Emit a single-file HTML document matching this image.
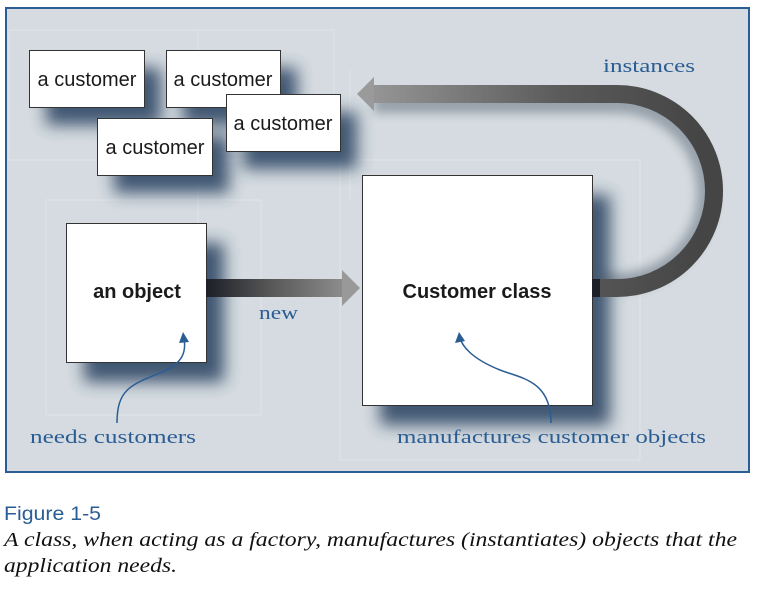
<!DOCTYPE html>
<html><head><meta charset="utf-8"><style>
html,body{margin:0;padding:0;background:#fff;width:757px;height:595px;overflow:hidden}
svg{display:block}
</style></head><body>
<svg width="757" height="595" viewBox="0 0 757 595" xmlns="http://www.w3.org/2000/svg">
<defs>
<filter id="sh" x="-40%" y="-40%" width="180%" height="180%"><feGaussianBlur stdDeviation="8"/></filter>
<filter id="sh2" x="-20%" y="-20%" width="140%" height="140%"><feGaussianBlur stdDeviation="5"/></filter>
<linearGradient id="gnew" x1="206" y1="0" x2="360" y2="0" gradientUnits="userSpaceOnUse">
<stop offset="0" stop-color="#1c1f28"/><stop offset="0.4" stop-color="#555"/><stop offset="1" stop-color="#999"/></linearGradient>
<linearGradient id="ginst" x1="357" y1="0" x2="700" y2="0" gradientUnits="userSpaceOnUse">
<stop offset="0" stop-color="#9a9a9a"/><stop offset="0.6" stop-color="#5a5a5a"/><stop offset="1" stop-color="#454545"/></linearGradient>
</defs>
<rect x="6" y="8" width="743" height="464" fill="#d5dbe0" stroke="#2a5d94" stroke-width="2"/>
<g stroke="#dfe4e8" stroke-width="1" fill="none">
<rect x="9" y="30" width="325" height="130"/>
<rect x="46" y="200" width="215" height="215"/>
<rect x="340" y="160" width="300" height="300"/>
<line x1="198" y1="30" x2="198" y2="230"/>
<line x1="350" y1="70" x2="350" y2="200"/>
</g>
<g fill="#27405e" opacity="0.85" filter="url(#sh)">
<rect x="46" y="68" width="115" height="57"/>
<rect x="183" y="68" width="114" height="57"/>
<rect x="243" y="112" width="114" height="57"/>
<rect x="114" y="136" width="115" height="57"/>
<rect x="84" y="243" width="140" height="139"/>
<rect x="380" y="195" width="230" height="230"/>
</g>
<path d="M374 104 L617 104 A88 88 0 0 1 617 282 L592 282" fill="none" stroke="#4a5868" stroke-width="18" opacity="0.45" filter="url(#sh2)"/>
<g fill="#fff" stroke="#333" stroke-width="1">
<rect x="29.5" y="50.5" width="115" height="57"/>
<rect x="166.5" y="50.5" width="114" height="57"/>
<rect x="226.5" y="94.5" width="114" height="57"/>
<rect x="97.5" y="118.5" width="115" height="57"/>
<rect x="66.5" y="223.5" width="140" height="139"/>
<rect x="362.5" y="175.5" width="230" height="230"/>
</g>
<g font-family="Liberation Sans, sans-serif" font-size="20" fill="#1a1a1a">
<text x="87" y="86" text-anchor="middle">a customer</text>
<text x="223" y="86" text-anchor="middle">a customer</text>
<text x="283" y="130" text-anchor="middle">a customer</text>
<text x="155" y="154" text-anchor="middle">a customer</text>
<text x="137" y="298" text-anchor="middle" font-weight="bold" font-size="20">an object</text>
<text x="477" y="298" text-anchor="middle" font-weight="bold" font-size="20">Customer class</text>
</g>
<path d="M374 94 L617 94 A97 97 0 0 1 617 288 L592 288" fill="none" stroke="url(#ginst)" stroke-width="18"/>
<path d="M592 279 L600 279 L600 297 L592 297 Z" fill="#1c1f28"/>
<polygon points="357,94 374,77 374,111" fill="#9a9a9a"/>
<rect x="206" y="279" width="137" height="18" fill="url(#gnew)"/>
<polygon points="342,270 360,288 342,306" fill="#999"/>
<g fill="none" stroke="#2a5d94" stroke-width="1.5">
<path d="M117 423 C117 390 130 385 160 373 C185 363 186 350 184 338"/>
<path d="M551 423 C551 380 520 378 500 370 C470 358 462 345 460 338"/>
</g>
<g fill="#2a5d94">
<polygon points="183,332 179,343 189,342"/>
<polygon points="459,332 455,343 465,341"/>
</g>
<g font-family="Liberation Serif, serif" font-size="19" fill="#2a5d94">
<text x="603" y="72" textLength="92" lengthAdjust="spacingAndGlyphs">instances</text>
<text x="259" y="319" textLength="39" lengthAdjust="spacingAndGlyphs">new</text>
<text x="30" y="443" textLength="166" lengthAdjust="spacingAndGlyphs">needs customers</text>
<text x="397" y="443" textLength="309" lengthAdjust="spacingAndGlyphs">manufactures customer objects</text>
</g>
<text x="4" y="520" font-family="Liberation Sans, sans-serif" font-size="19" fill="#2a5d94" textLength="97" lengthAdjust="spacingAndGlyphs">Figure 1-5</text>
<g font-family="Liberation Serif, serif" font-style="italic" font-size="20" fill="#111">
<text x="4" y="546" textLength="733" lengthAdjust="spacingAndGlyphs">A class, when acting as a factory, manufactures (instantiates) objects that the</text>
<text x="4" y="572" textLength="173" lengthAdjust="spacingAndGlyphs">application needs.</text>
</g>
</svg>
</body></html>
